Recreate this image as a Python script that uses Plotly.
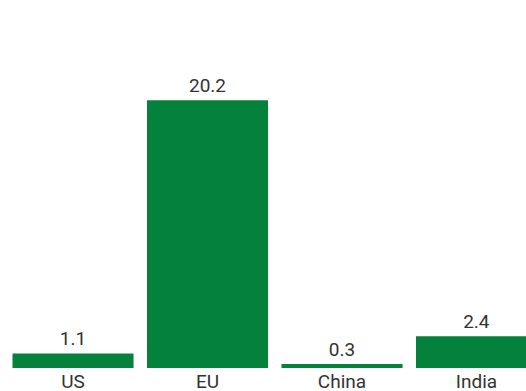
import plotly.graph_objects as go

categories = ["US", "EU", "China", "India"]
values = [1.1, 20.2, 0.3, 2.4]
value_labels = ["1.1", "20.2", "0.3", "2.4"]

BAR_COLOR = "#04813a"
TEXT_COLOR = "#333333"
FONT = "Roboto, Lato, DejaVu Sans, sans-serif"

fig = go.Figure(
    go.Bar(
        x=categories,
        y=values,
        text=value_labels,
        textposition="outside",
        textfont=dict(family=FONT, size=19, color=TEXT_COLOR),
        marker=dict(color=BAR_COLOR, line=dict(width=0)),
        width=0.9,
        cliponaxis=False,
        hoverinfo="skip",
    )
)

fig.update_layout(
    width=526,
    height=391,
    margin=dict(l=0, r=0, t=0, b=23),
    paper_bgcolor="white",
    plot_bgcolor="white",
    showlegend=False,
    font=dict(family=FONT, color=TEXT_COLOR),
    xaxis=dict(
        range=[-0.543, 3.368],
        showgrid=False,
        zeroline=False,
        showline=False,
        ticks="",
        tickfont=dict(family=FONT, size=19, color=TEXT_COLOR),
        automargin=False,
        fixedrange=True,
    ),
    yaxis=dict(
        range=[0, 27.77],
        visible=False,
        showgrid=False,
        zeroline=False,
        automargin=False,
        fixedrange=True,
    ),
)

fig.write_html("out.html", config={"displayModeBar": False})
